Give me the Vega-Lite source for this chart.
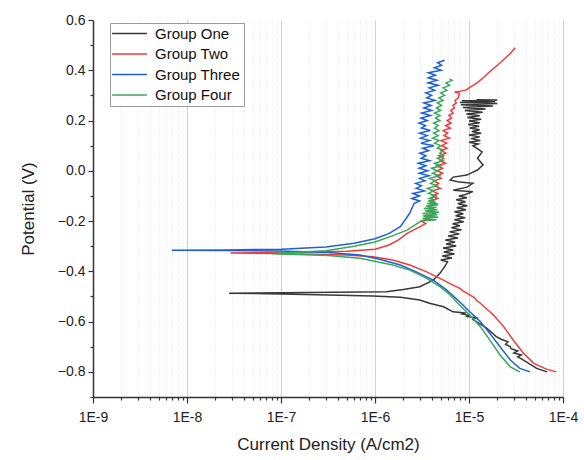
{
  "$schema": "https://vega.github.io/schema/vega-lite/v6.json",
  "autosize": {"type": "none"},
  "width": 470,
  "height": 377,
  "padding": {"left": 93, "top": 20, "right": 21, "bottom": 63},
  "background": "white",
  "config": {
    "view": {"stroke": null},
    "font": "Liberation Sans"
  },
  "data": {"values": [
    {"g": "Group One", "i": 6.76e-5, "v": -0.800},
    {"g": "Group One", "i": 5.25e-5, "v": -0.786},
    {"g": "Group One", "i": 3.8e-5, "v": -0.753},
    {"g": "Group One", "i": 3.3e-5, "v": -0.740},
    {"g": "Group One", "i": 3.6e-5, "v": -0.733},
    {"g": "Group One", "i": 3.0e-5, "v": -0.725},
    {"g": "Group One", "i": 3.3e-5, "v": -0.717},
    {"g": "Group One", "i": 2.8e-5, "v": -0.708},
    {"g": "Group One", "i": 2.75e-5, "v": -0.700},
    {"g": "Group One", "i": 2.45e-5, "v": -0.690},
    {"g": "Group One", "i": 2.6e-5, "v": -0.680},
    {"g": "Group One", "i": 2.2e-5, "v": -0.670},
    {"g": "Group One", "i": 1.95e-5, "v": -0.660},
    {"g": "Group One", "i": 1.55e-5, "v": -0.627},
    {"g": "Group One", "i": 1.2e-5, "v": -0.600},
    {"g": "Group One", "i": 1.1e-5, "v": -0.592},
    {"g": "Group One", "i": 1.2e-5, "v": -0.585},
    {"g": "Group One", "i": 9.5e-6, "v": -0.580},
    {"g": "Group One", "i": 1.0e-5, "v": -0.575},
    {"g": "Group One", "i": 8.5e-6, "v": -0.570},
    {"g": "Group One", "i": 9.0e-6, "v": -0.566},
    {"g": "Group One", "i": 6.76e-6, "v": -0.561},
    {"g": "Group One", "i": 5.37e-6, "v": -0.541},
    {"g": "Group One", "i": 3.8e-6, "v": -0.527},
    {"g": "Group One", "i": 3.0e-6, "v": -0.514},
    {"g": "Group One", "i": 1.86e-6, "v": -0.503},
    {"g": "Group One", "i": 9.5e-7, "v": -0.498},
    {"g": "Group One", "i": 3.2e-7, "v": -0.494},
    {"g": "Group One", "i": 1.0e-7, "v": -0.490},
    {"g": "Group One", "i": 2.8e-8, "v": -0.487},
    {"g": "Group One", "i": 1.0e-7, "v": -0.485},
    {"g": "Group One", "i": 6.9e-7, "v": -0.482},
    {"g": "Group One", "i": 1.32e-6, "v": -0.481},
    {"g": "Group One", "i": 2.0e-6, "v": -0.472},
    {"g": "Group One", "i": 3.0e-6, "v": -0.461},
    {"g": "Group One", "i": 4.17e-6, "v": -0.435},
    {"g": "Group One", "i": 4.9e-6, "v": -0.408},
    {"g": "Group One", "i": 5.5e-6, "v": -0.382},
    {"g": "Group One", "i": 5.9e-6, "v": -0.362},
    {"g": "Group One", "i": 5.0e-6, "v": -0.355},
    {"g": "Group One", "i": 6.6e-6, "v": -0.347},
    {"g": "Group One", "i": 5.2e-6, "v": -0.339},
    {"g": "Group One", "i": 7.0e-6, "v": -0.331},
    {"g": "Group One", "i": 5.4e-6, "v": -0.323},
    {"g": "Group One", "i": 6.8e-6, "v": -0.315},
    {"g": "Group One", "i": 5.3e-6, "v": -0.307},
    {"g": "Group One", "i": 7.3e-6, "v": -0.299},
    {"g": "Group One", "i": 5.7e-6, "v": -0.291},
    {"g": "Group One", "i": 7.1e-6, "v": -0.283},
    {"g": "Group One", "i": 5.6e-6, "v": -0.275},
    {"g": "Group One", "i": 7.6e-6, "v": -0.267},
    {"g": "Group One", "i": 6.0e-6, "v": -0.259},
    {"g": "Group One", "i": 7.9e-6, "v": -0.251},
    {"g": "Group One", "i": 6.2e-6, "v": -0.243},
    {"g": "Group One", "i": 8.3e-6, "v": -0.235},
    {"g": "Group One", "i": 6.5e-6, "v": -0.227},
    {"g": "Group One", "i": 8.0e-6, "v": -0.219},
    {"g": "Group One", "i": 6.7e-6, "v": -0.211},
    {"g": "Group One", "i": 8.8e-6, "v": -0.203},
    {"g": "Group One", "i": 7.0e-6, "v": -0.195},
    {"g": "Group One", "i": 9.1e-6, "v": -0.187},
    {"g": "Group One", "i": 7.2e-6, "v": -0.179},
    {"g": "Group One", "i": 8.7e-6, "v": -0.171},
    {"g": "Group One", "i": 7.0e-6, "v": -0.163},
    {"g": "Group One", "i": 9.3e-6, "v": -0.155},
    {"g": "Group One", "i": 7.4e-6, "v": -0.147},
    {"g": "Group One", "i": 9.6e-6, "v": -0.139},
    {"g": "Group One", "i": 7.6e-6, "v": -0.131},
    {"g": "Group One", "i": 9.2e-6, "v": -0.123},
    {"g": "Group One", "i": 7.3e-6, "v": -0.115},
    {"g": "Group One", "i": 9.5e-6, "v": -0.107},
    {"g": "Group One", "i": 7.8e-6, "v": -0.100},
    {"g": "Group One", "i": 9.0e-6, "v": -0.095},
    {"g": "Group One", "i": 1.1e-5, "v": -0.083},
    {"g": "Group One", "i": 6.8e-6, "v": -0.077},
    {"g": "Group One", "i": 9.5e-6, "v": -0.065},
    {"g": "Group One", "i": 1.1e-5, "v": -0.050},
    {"g": "Group One", "i": 7.9e-6, "v": -0.045},
    {"g": "Group One", "i": 6.3e-6, "v": -0.037},
    {"g": "Group One", "i": 6.8e-6, "v": -0.025},
    {"g": "Group One", "i": 9.5e-6, "v": -0.017},
    {"g": "Group One", "i": 1.23e-5, "v": 0.003},
    {"g": "Group One", "i": 1.41e-5, "v": 0.023},
    {"g": "Group One", "i": 1.23e-5, "v": 0.050},
    {"g": "Group One", "i": 1.38e-5, "v": 0.075},
    {"g": "Group One", "i": 1.1e-5, "v": 0.100},
    {"g": "Group One", "i": 1.25e-5, "v": 0.107},
    {"g": "Group One", "i": 1.0e-5, "v": 0.114},
    {"g": "Group One", "i": 1.32e-5, "v": 0.121},
    {"g": "Group One", "i": 1.05e-5, "v": 0.128},
    {"g": "Group One", "i": 1.3e-5, "v": 0.135},
    {"g": "Group One", "i": 1.0e-5, "v": 0.142},
    {"g": "Group One", "i": 1.35e-5, "v": 0.149},
    {"g": "Group One", "i": 1.07e-5, "v": 0.156},
    {"g": "Group One", "i": 1.3e-5, "v": 0.163},
    {"g": "Group One", "i": 1.02e-5, "v": 0.170},
    {"g": "Group One", "i": 1.28e-5, "v": 0.177},
    {"g": "Group One", "i": 9.8e-6, "v": 0.184},
    {"g": "Group One", "i": 1.3e-5, "v": 0.191},
    {"g": "Group One", "i": 1.0e-5, "v": 0.198},
    {"g": "Group One", "i": 1.35e-5, "v": 0.205},
    {"g": "Group One", "i": 9.6e-6, "v": 0.212},
    {"g": "Group One", "i": 1.3e-5, "v": 0.219},
    {"g": "Group One", "i": 9.4e-6, "v": 0.226},
    {"g": "Group One", "i": 1.4e-5, "v": 0.233},
    {"g": "Group One", "i": 9.0e-6, "v": 0.240},
    {"g": "Group One", "i": 1.5e-5, "v": 0.246},
    {"g": "Group One", "i": 8.6e-6, "v": 0.252},
    {"g": "Group One", "i": 1.8e-5, "v": 0.258},
    {"g": "Group One", "i": 8.2e-6, "v": 0.263},
    {"g": "Group One", "i": 2.0e-5, "v": 0.268},
    {"g": "Group One", "i": 8.0e-6, "v": 0.272},
    {"g": "Group One", "i": 1.9e-5, "v": 0.276},
    {"g": "Group One", "i": 8.4e-6, "v": 0.279},
    {"g": "Group One", "i": 2.0e-5, "v": 0.282},
    {"g": "Group One", "i": 1.2e-5, "v": 0.283},

    {"g": "Group Two", "i": 8.5e-5, "v": -0.800},
    {"g": "Group Two", "i": 6.76e-5, "v": -0.790},
    {"g": "Group Two", "i": 4.9e-5, "v": -0.766},
    {"g": "Group Two", "i": 3.8e-5, "v": -0.726},
    {"g": "Group Two", "i": 2.95e-5, "v": -0.673},
    {"g": "Group Two", "i": 2.34e-5, "v": -0.620},
    {"g": "Group Two", "i": 1.82e-5, "v": -0.574},
    {"g": "Group Two", "i": 1.32e-5, "v": -0.527},
    {"g": "Group Two", "i": 1.2e-5, "v": -0.515},
    {"g": "Group Two", "i": 1.15e-5, "v": -0.505},
    {"g": "Group Two", "i": 9.55e-6, "v": -0.488},
    {"g": "Group Two", "i": 8.6e-6, "v": -0.478},
    {"g": "Group Two", "i": 8.0e-6, "v": -0.468},
    {"g": "Group Two", "i": 6.76e-6, "v": -0.455},
    {"g": "Group Two", "i": 4.9e-6, "v": -0.428},
    {"g": "Group Two", "i": 3.55e-6, "v": -0.402},
    {"g": "Group Two", "i": 2.34e-6, "v": -0.375},
    {"g": "Group Two", "i": 1.55e-6, "v": -0.355},
    {"g": "Group Two", "i": 9.5e-7, "v": -0.342},
    {"g": "Group Two", "i": 5.0e-7, "v": -0.335},
    {"g": "Group Two", "i": 1.0e-7, "v": -0.329},
    {"g": "Group Two", "i": 2.9e-8, "v": -0.327},
    {"g": "Group Two", "i": 1.0e-7, "v": -0.325},
    {"g": "Group Two", "i": 5.0e-7, "v": -0.320},
    {"g": "Group Two", "i": 1.0e-6, "v": -0.312},
    {"g": "Group Two", "i": 1.41e-6, "v": -0.295},
    {"g": "Group Two", "i": 1.78e-6, "v": -0.275},
    {"g": "Group Two", "i": 2.19e-6, "v": -0.249},
    {"g": "Group Two", "i": 3.02e-6, "v": -0.222},
    {"g": "Group Two", "i": 3.46e-6, "v": -0.21},
    {"g": "Group Two", "i": 3.12e-6, "v": -0.20},
    {"g": "Group Two", "i": 3.73e-6, "v": -0.19},
    {"g": "Group Two", "i": 3.33e-6, "v": -0.18},
    {"g": "Group Two", "i": 4.28e-6, "v": -0.17},
    {"g": "Group Two", "i": 3.75e-6, "v": -0.16},
    {"g": "Group Two", "i": 4.14e-6, "v": -0.15},
    {"g": "Group Two", "i": 3.72e-6, "v": -0.14},
    {"g": "Group Two", "i": 4.46e-6, "v": -0.13},
    {"g": "Group Two", "i": 3.99e-6, "v": -0.12},
    {"g": "Group Two", "i": 4.65e-6, "v": -0.11},
    {"g": "Group Two", "i": 4.07e-6, "v": -0.10},
    {"g": "Group Two", "i": 4.65e-6, "v": -0.09},
    {"g": "Group Two", "i": 4.02e-6, "v": -0.08},
    {"g": "Group Two", "i": 4.97e-6, "v": -0.07},
    {"g": "Group Two", "i": 4.34e-6, "v": -0.06},
    {"g": "Group Two", "i": 4.75e-6, "v": -0.05},
    {"g": "Group Two", "i": 4.24e-6, "v": -0.04},
    {"g": "Group Two", "i": 5.05e-6, "v": -0.03},
    {"g": "Group Two", "i": 4.50e-6, "v": -0.02},
    {"g": "Group Two", "i": 5.24e-6, "v": -0.01},
    {"g": "Group Two", "i": 4.58e-6, "v": 0.00},
    {"g": "Group Two", "i": 5.24e-6, "v": 0.01},
    {"g": "Group Two", "i": 4.55e-6, "v": 0.02},
    {"g": "Group Two", "i": 5.64e-6, "v": 0.03},
    {"g": "Group Two", "i": 4.92e-6, "v": 0.04},
    {"g": "Group Two", "i": 5.38e-6, "v": 0.05},
    {"g": "Group Two", "i": 4.79e-6, "v": 0.06},
    {"g": "Group Two", "i": 5.68e-6, "v": 0.07},
    {"g": "Group Two", "i": 5.05e-6, "v": 0.08},
    {"g": "Group Two", "i": 5.84e-6, "v": 0.09},
    {"g": "Group Two", "i": 5.09e-6, "v": 0.10},
    {"g": "Group Two", "i": 5.80e-6, "v": 0.11},
    {"g": "Group Two", "i": 5.02e-6, "v": 0.12},
    {"g": "Group Two", "i": 6.20e-6, "v": 0.13},
    {"g": "Group Two", "i": 5.42e-6, "v": 0.14},
    {"g": "Group Two", "i": 5.92e-6, "v": 0.15},
    {"g": "Group Two", "i": 5.32e-6, "v": 0.16},
    {"g": "Group Two", "i": 6.35e-6, "v": 0.17},
    {"g": "Group Two", "i": 5.65e-6, "v": 0.18},
    {"g": "Group Two", "i": 6.47e-6, "v": 0.19},
    {"g": "Group Two", "i": 5.87e-6, "v": 0.20},
    {"g": "Group Two", "i": 6.52e-6, "v": 0.21},
    {"g": "Group Two", "i": 6.12e-6, "v": 0.22},
    {"g": "Group Two", "i": 6.78e-6, "v": 0.23},
    {"g": "Group Two", "i": 6.40e-6, "v": 0.24},
    {"g": "Group Two", "i": 7.01e-6, "v": 0.25},
    {"g": "Group Two", "i": 6.76e-6, "v": 0.26},
    {"g": "Group Two", "i": 7.32e-6, "v": 0.27},
    {"g": "Group Two", "i": 7.11e-6, "v": 0.28},
    {"g": "Group Two", "i": 7.70e-6, "v": 0.29},
    {"g": "Group Two", "i": 7.8e-6, "v": 0.30},
    {"g": "Group Two", "i": 7.94e-6, "v": 0.308},
    {"g": "Group Two", "i": 7.0e-6, "v": 0.313},
    {"g": "Group Two", "i": 9.3e-6, "v": 0.321},
    {"g": "Group Two", "i": 1.05e-5, "v": 0.335},
    {"g": "Group Two", "i": 1.2e-5, "v": 0.348},
    {"g": "Group Two", "i": 1.42e-5, "v": 0.370},
    {"g": "Group Two", "i": 1.66e-5, "v": 0.394},
    {"g": "Group Two", "i": 2.15e-5, "v": 0.430},
    {"g": "Group Two", "i": 2.75e-5, "v": 0.467},
    {"g": "Group Two", "i": 3.1e-5, "v": 0.490},

    {"g": "Group Three", "i": 4.47e-5, "v": -0.800},
    {"g": "Group Three", "i": 3.47e-5, "v": -0.786},
    {"g": "Group Three", "i": 2.75e-5, "v": -0.753},
    {"g": "Group Three", "i": 2.14e-5, "v": -0.700},
    {"g": "Group Three", "i": 1.66e-5, "v": -0.647},
    {"g": "Group Three", "i": 1.32e-5, "v": -0.600},
    {"g": "Group Three", "i": 1.02e-5, "v": -0.561},
    {"g": "Group Three", "i": 7.94e-6, "v": -0.521},
    {"g": "Group Three", "i": 5.75e-6, "v": -0.474},
    {"g": "Group Three", "i": 4.17e-6, "v": -0.435},
    {"g": "Group Three", "i": 2.75e-6, "v": -0.402},
    {"g": "Group Three", "i": 1.86e-6, "v": -0.375},
    {"g": "Group Three", "i": 1.12e-6, "v": -0.352},
    {"g": "Group Three", "i": 6.9e-7, "v": -0.335},
    {"g": "Group Three", "i": 3.2e-7, "v": -0.325},
    {"g": "Group Three", "i": 1.0e-7, "v": -0.319},
    {"g": "Group Three", "i": 2.5e-8, "v": -0.317},
    {"g": "Group Three", "i": 6.9e-9, "v": -0.316},
    {"g": "Group Three", "i": 2.5e-8, "v": -0.315},
    {"g": "Group Three", "i": 1.0e-7, "v": -0.312},
    {"g": "Group Three", "i": 3.0e-7, "v": -0.303},
    {"g": "Group Three", "i": 6.0e-7, "v": -0.288},
    {"g": "Group Three", "i": 1.0e-6, "v": -0.270},
    {"g": "Group Three", "i": 1.4e-6, "v": -0.250},
    {"g": "Group Three", "i": 1.86e-6, "v": -0.222},
    {"g": "Group Three", "i": 2.34e-6, "v": -0.169},
    {"g": "Group Three", "i": 2.6e-6, "v": -0.13},
    {"g": "Group Three", "i": 2.98e-6, "v": -0.12},
    {"g": "Group Three", "i": 2.46e-6, "v": -0.11},
    {"g": "Group Three", "i": 2.97e-6, "v": -0.10},
    {"g": "Group Three", "i": 2.53e-6, "v": -0.09},
    {"g": "Group Three", "i": 3.36e-6, "v": -0.08},
    {"g": "Group Three", "i": 2.75e-6, "v": -0.07},
    {"g": "Group Three", "i": 3.12e-6, "v": -0.06},
    {"g": "Group Three", "i": 2.71e-6, "v": -0.05},
    {"g": "Group Three", "i": 3.41e-6, "v": -0.04},
    {"g": "Group Three", "i": 2.98e-6, "v": -0.03},
    {"g": "Group Three", "i": 3.76e-6, "v": -0.02},
    {"g": "Group Three", "i": 2.95e-6, "v": -0.01},
    {"g": "Group Three", "i": 3.64e-6, "v": 0.00},
    {"g": "Group Three", "i": 2.94e-6, "v": 0.01},
    {"g": "Group Three", "i": 3.48e-6, "v": 0.02},
    {"g": "Group Three", "i": 2.90e-6, "v": 0.03},
    {"g": "Group Three", "i": 3.81e-6, "v": 0.04},
    {"g": "Group Three", "i": 3.10e-6, "v": 0.05},
    {"g": "Group Three", "i": 3.48e-6, "v": 0.06},
    {"g": "Group Three", "i": 3.00e-6, "v": 0.07},
    {"g": "Group Three", "i": 3.73e-6, "v": 0.08},
    {"g": "Group Three", "i": 3.22e-6, "v": 0.09},
    {"g": "Group Three", "i": 4.24e-6, "v": 0.10},
    {"g": "Group Three", "i": 3.08e-6, "v": 0.11},
    {"g": "Group Three", "i": 3.80e-6, "v": 0.12},
    {"g": "Group Three", "i": 3.05e-6, "v": 0.13},
    {"g": "Group Three", "i": 3.59e-6, "v": 0.14},
    {"g": "Group Three", "i": 2.98e-6, "v": 0.15},
    {"g": "Group Three", "i": 3.88e-6, "v": 0.16},
    {"g": "Group Three", "i": 3.12e-6, "v": 0.17},
    {"g": "Group Three", "i": 3.45e-6, "v": 0.18},
    {"g": "Group Three", "i": 2.94e-6, "v": 0.19},
    {"g": "Group Three", "i": 3.60e-6, "v": 0.20},
    {"g": "Group Three", "i": 3.09e-6, "v": 0.21},
    {"g": "Group Three", "i": 3.89e-6, "v": 0.22},
    {"g": "Group Three", "i": 3.14e-6, "v": 0.23},
    {"g": "Group Three", "i": 4.01e-6, "v": 0.24},
    {"g": "Group Three", "i": 3.31e-6, "v": 0.25},
    {"g": "Group Three", "i": 3.95e-6, "v": 0.26},
    {"g": "Group Three", "i": 3.31e-6, "v": 0.27},
    {"g": "Group Three", "i": 4.36e-6, "v": 0.28},
    {"g": "Group Three", "i": 3.55e-6, "v": 0.29},
    {"g": "Group Three", "i": 4.00e-6, "v": 0.30},
    {"g": "Group Three", "i": 3.46e-6, "v": 0.31},
    {"g": "Group Three", "i": 4.31e-6, "v": 0.32},
    {"g": "Group Three", "i": 3.76e-6, "v": 0.33},
    {"g": "Group Three", "i": 4.71e-6, "v": 0.34},
    {"g": "Group Three", "i": 3.67e-6, "v": 0.35},
    {"g": "Group Three", "i": 4.56e-6, "v": 0.36},
    {"g": "Group Three", "i": 3.69e-6, "v": 0.37},
    {"g": "Group Three", "i": 4.39e-6, "v": 0.38},
    {"g": "Group Three", "i": 3.70e-6, "v": 0.39},
    {"g": "Group Three", "i": 5.06e-6, "v": 0.40},
    {"g": "Group Three", "i": 4.28e-6, "v": 0.41},
    {"g": "Group Three", "i": 5.10e-6, "v": 0.42},
    {"g": "Group Three", "i": 4.63e-6, "v": 0.43},
    {"g": "Group Three", "i": 5.5e-6, "v": 0.44},

    {"g": "Group Four", "i": 3.47e-5, "v": -0.800},
    {"g": "Group Four", "i": 2.75e-5, "v": -0.780},
    {"g": "Group Four", "i": 2.14e-5, "v": -0.733},
    {"g": "Group Four", "i": 1.66e-5, "v": -0.673},
    {"g": "Group Four", "i": 1.32e-5, "v": -0.620},
    {"g": "Group Four", "i": 1.02e-5, "v": -0.574},
    {"g": "Group Four", "i": 7.94e-6, "v": -0.534},
    {"g": "Group Four", "i": 6.31e-6, "v": -0.494},
    {"g": "Group Four", "i": 4.9e-6, "v": -0.461},
    {"g": "Group Four", "i": 3.55e-6, "v": -0.428},
    {"g": "Group Four", "i": 2.34e-6, "v": -0.395},
    {"g": "Group Four", "i": 1.55e-6, "v": -0.375},
    {"g": "Group Four", "i": 1.05e-6, "v": -0.362},
    {"g": "Group Four", "i": 6.9e-7, "v": -0.348},
    {"g": "Group Four", "i": 3.2e-7, "v": -0.337},
    {"g": "Group Four", "i": 1.0e-7, "v": -0.331},
    {"g": "Group Four", "i": 8.0e-8, "v": -0.330},
    {"g": "Group Four", "i": 1.0e-7, "v": -0.327},
    {"g": "Group Four", "i": 3.0e-7, "v": -0.318},
    {"g": "Group Four", "i": 6.0e-7, "v": -0.300},
    {"g": "Group Four", "i": 1.0e-6, "v": -0.283},
    {"g": "Group Four", "i": 1.5e-6, "v": -0.260},
    {"g": "Group Four", "i": 2.19e-6, "v": -0.236},
    {"g": "Group Four", "i": 2.8e-6, "v": -0.210},
    {"g": "Group Four", "i": 3.1e-6, "v": -0.200},
    {"g": "Group Four", "i": 4.5e-6, "v": -0.195},
    {"g": "Group Four", "i": 3.2e-6, "v": -0.190},
    {"g": "Group Four", "i": 4.7e-6, "v": -0.185},
    {"g": "Group Four", "i": 3.3e-6, "v": -0.180},
    {"g": "Group Four", "i": 4.6e-6, "v": -0.175},
    {"g": "Group Four", "i": 3.2e-6, "v": -0.170},
    {"g": "Group Four", "i": 4.8e-6, "v": -0.165},
    {"g": "Group Four", "i": 3.4e-6, "v": -0.160},
    {"g": "Group Four", "i": 4.6e-6, "v": -0.155},
    {"g": "Group Four", "i": 3.3e-6, "v": -0.150},
    {"g": "Group Four", "i": 4.5e-6, "v": -0.145},
    {"g": "Group Four", "i": 3.5e-6, "v": -0.140},
    {"g": "Group Four", "i": 4.7e-6, "v": -0.135},
    {"g": "Group Four", "i": 3.6e-6, "v": -0.130},
    {"g": "Group Four", "i": 4.4e-6, "v": -0.125},
    {"g": "Group Four", "i": 3.7e-6, "v": -0.120},
    {"g": "Group Four", "i": 4.3e-6, "v": -0.115},
    {"g": "Group Four", "i": 3.8e-6, "v": -0.110},
    {"g": "Group Four", "i": 4.5e-6, "v": -0.100},
    {"g": "Group Four", "i": 3.7e-6, "v": -0.090},
    {"g": "Group Four", "i": 4.2e-6, "v": -0.080},
    {"g": "Group Four", "i": 3.6e-6, "v": -0.070},
    {"g": "Group Four", "i": 4.6e-6, "v": -0.060},
    {"g": "Group Four", "i": 3.9e-6, "v": -0.050},
    {"g": "Group Four", "i": 4.4e-6, "v": -0.040},
    {"g": "Group Four", "i": 3.8e-6, "v": -0.030},
    {"g": "Group Four", "i": 4.9e-6, "v": -0.020},
    {"g": "Group Four", "i": 4.1e-6, "v": -0.010},
    {"g": "Group Four", "i": 4.6e-6, "v": 0.000},
    {"g": "Group Four", "i": 4.0e-6, "v": 0.010},
    {"g": "Group Four", "i": 5.0e-6, "v": 0.020},
    {"g": "Group Four", "i": 4.3e-6, "v": 0.030},
    {"g": "Group Four", "i": 5.3e-6, "v": 0.040},
    {"g": "Group Four", "i": 4.6e-6, "v": 0.050},
    {"g": "Group Four", "i": 5.4e-6, "v": 0.060},
    {"g": "Group Four", "i": 4.9e-6, "v": 0.070},
    {"g": "Group Four", "i": 5.4e-6, "v": 0.083},
    {"g": "Group Four", "i": 4.6e-6, "v": 0.090},
    {"g": "Group Four", "i": 5.0e-6, "v": 0.100},
    {"g": "Group Four", "i": 4.3e-6, "v": 0.110},
    {"g": "Group Four", "i": 4.8e-6, "v": 0.120},
    {"g": "Group Four", "i": 4.1e-6, "v": 0.130},
    {"g": "Group Four", "i": 4.7e-6, "v": 0.140},
    {"g": "Group Four", "i": 4.2e-6, "v": 0.150},
    {"g": "Group Four", "i": 4.8e-6, "v": 0.160},
    {"g": "Group Four", "i": 4.3e-6, "v": 0.170},
    {"g": "Group Four", "i": 4.7e-6, "v": 0.180},
    {"g": "Group Four", "i": 4.2e-6, "v": 0.190},
    {"g": "Group Four", "i": 4.9e-6, "v": 0.200},
    {"g": "Group Four", "i": 4.4e-6, "v": 0.210},
    {"g": "Group Four", "i": 4.9e-6, "v": 0.220},
    {"g": "Group Four", "i": 4.3e-6, "v": 0.230},
    {"g": "Group Four", "i": 5.0e-6, "v": 0.240},
    {"g": "Group Four", "i": 4.5e-6, "v": 0.250},
    {"g": "Group Four", "i": 5.1e-6, "v": 0.260},
    {"g": "Group Four", "i": 4.6e-6, "v": 0.270},
    {"g": "Group Four", "i": 5.3e-6, "v": 0.280},
    {"g": "Group Four", "i": 4.8e-6, "v": 0.290},
    {"g": "Group Four", "i": 5.5e-6, "v": 0.300},
    {"g": "Group Four", "i": 5.0e-6, "v": 0.310},
    {"g": "Group Four", "i": 5.8e-6, "v": 0.320},
    {"g": "Group Four", "i": 5.3e-6, "v": 0.330},
    {"g": "Group Four", "i": 6.2e-6, "v": 0.340},
    {"g": "Group Four", "i": 5.7e-6, "v": 0.350},
    {"g": "Group Four", "i": 6.6e-6, "v": 0.360},
    {"g": "Group Four", "i": 6.2e-6, "v": 0.365}
  ]},
  "mark": {"type": "line", "strokeWidth": 1.5, "clip": true},
  "encoding": {
    "x": {
      "field": "i", "type": "quantitative",
      "scale": {"type": "log", "domain": [1e-9, 1e-4], "nice": false},
      "axis": {
        "title": "Current Density (A/cm2)",
        "titleFontSize": 17, "titleFontWeight": "normal", "titleColor": "#222", "titlePadding": 12,
        "values": [1e-9,2e-9,3e-9,4e-9,5e-9,6e-9,7e-9,8e-9,9e-9,1e-8,2e-8,3e-8,4e-8,5e-8,6e-8,7e-8,8e-8,9e-8,1e-7,2e-7,3e-7,4e-7,5e-7,6e-7,7e-7,8e-7,9e-7,1e-6,2e-6,3e-6,4e-6,5e-6,6e-6,7e-6,8e-6,9e-6,1e-5,2e-5,3e-5,4e-5,5e-5,6e-5,7e-5,8e-5,9e-5,1e-4],
        "labelExpr": "abs(log(datum.value)/LN10 - round(log(datum.value)/LN10)) < 0.01 ? '1E' + round(log(datum.value)/LN10) : ''",
        "labelFontSize": 14, "labelColor": "#222", "labelPadding": 7, "labelFlush": false,
        "domainColor": "#333", "domainWidth": 1.5,
        "tickColor": "#333", "tickWidth": 1.2,
        "tickSize": {"condition": {"test": "abs(log(datum.value)/LN10 - round(log(datum.value)/LN10)) < 0.01", "value": 6}, "value": 3},
        "grid": true,
        "gridColor": {"condition": {"test": "abs(log(datum.value)/LN10 - round(log(datum.value)/LN10)) < 0.01", "value": "#d0d0d0"}, "value": "#e4e4e4"},
        "gridDash": {"condition": {"test": "abs(log(datum.value)/LN10 - round(log(datum.value)/LN10)) < 0.01", "value": []}, "value": [1, 2]},
        "gridWidth": 1
      }
    },
    "y": {
      "field": "v", "type": "quantitative",
      "scale": {"domain": [-0.9, 0.6], "nice": false, "zero": false},
      "axis": {
        "title": "Potential (V)",
        "titleFontSize": 17, "titleFontWeight": "normal", "titleColor": "#222", "titlePadding": 20,
        "values": [-0.9,-0.8,-0.7,-0.6,-0.5,-0.4,-0.3,-0.2,-0.1,0,0.1,0.2,0.3,0.4,0.5,0.6],
        "labelExpr": "abs(round(datum.value*10)) % 2 == 0 ? format(datum.value, '.1f') : ''",
        "labelFontSize": 14, "labelColor": "#222", "labelPadding": 3, "labelFlush": false,
        "domainColor": "#333", "domainWidth": 1.5,
        "tickColor": "#333", "tickWidth": 1.2,
        "tickSize": {"condition": {"test": "abs(round(datum.value*10)) % 2 == 0", "value": 5}, "value": 3},
        "grid": false
      }
    },
    "color": {
      "field": "g", "type": "nominal",
      "scale": {"domain": ["Group One", "Group Two", "Group Three", "Group Four"], "range": ["#383838", "#f03a3a", "#1f5fd6", "#36a85a"]},
      "legend": {
        "orient": "none", "legendX": 17, "legendY": 3, "title": null,
        "symbolType": "M-2.9,0H2.9", "symbolSize": 144, "symbolStrokeWidth": 1.5, "symbolOffset": 9,
        "labelFontSize": 15, "labelColor": "#111", "labelOffset": 18,
        "strokeColor": "#9a9a9a", "fillColor": "white", "padding": 3, "rowPadding": 4.5
      }
    },
    "order": {"value": null}
  }
}
